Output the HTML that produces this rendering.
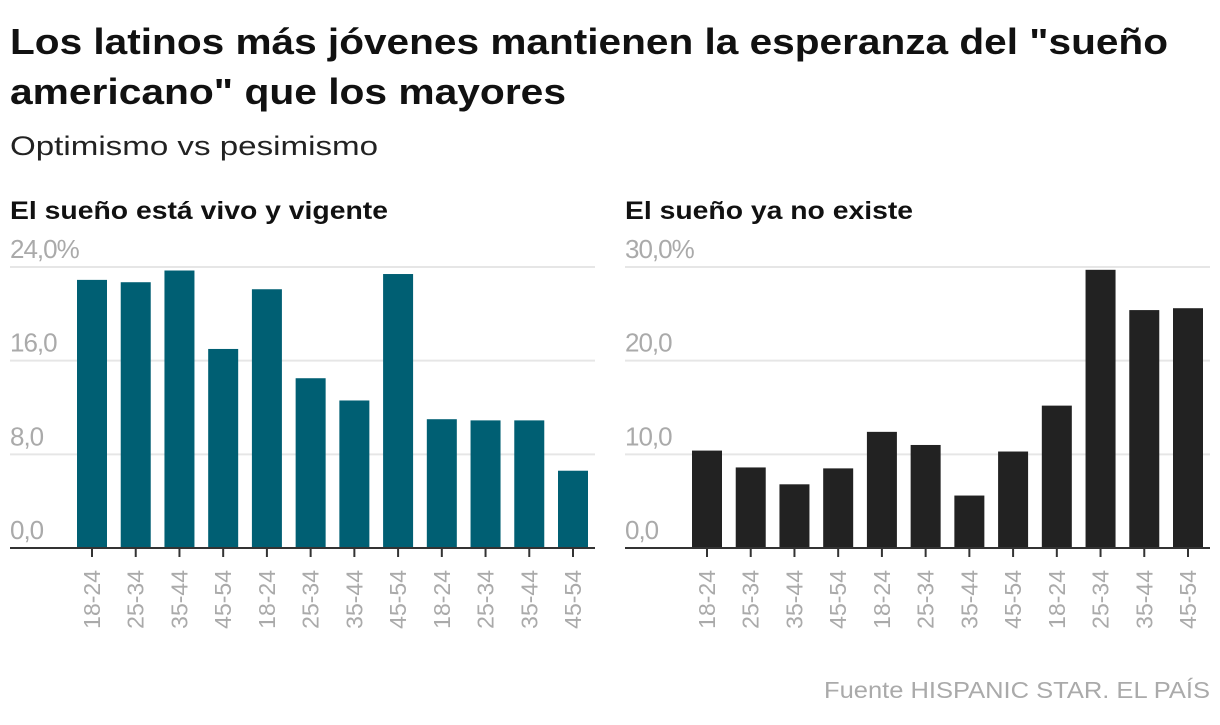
<!DOCTYPE html>
<html><head><meta charset="utf-8">
<style>
body{margin:0;background:#fff;width:1220px;height:720px;overflow:hidden;font-family:"Liberation Sans",sans-serif}
svg text{font-family:"Liberation Sans",sans-serif}
</style></head>
<body>
<svg id="chart" width="1220" height="720">
<text x="10" y="54" font-size="36" font-weight="bold" fill="#111" textLength="1158" lengthAdjust="spacingAndGlyphs">Los latinos más jóvenes mantienen la esperanza del "sueño</text>
<text x="10" y="104" font-size="36" font-weight="bold" fill="#111" textLength="556" lengthAdjust="spacingAndGlyphs">americano" que los mayores</text>
<text x="10" y="155" font-size="27" fill="#222" textLength="368" lengthAdjust="spacingAndGlyphs">Optimismo vs pesimismo</text>
<text x="10" y="219" font-size="25" font-weight="bold" fill="#111" textLength="378" lengthAdjust="spacingAndGlyphs">El sueño está vivo y vigente</text>
<text x="625" y="219" font-size="25" font-weight="bold" fill="#111" textLength="288" lengthAdjust="spacingAndGlyphs">El sueño ya no existe</text>
<text x="1210" y="698" font-size="23" fill="#aaa" text-anchor="end" textLength="386" lengthAdjust="spacingAndGlyphs">Fuente HISPANIC STAR. EL PAÍS</text>
<g id="left"></g><g id="right"></g>
</svg>
<script>
const categories = ["18-24","25-34","35-44","45-54","18-24","25-34","35-44","45-54","18-24","25-34","35-44","45-54"];
const aliveValues = [22.9,22.7,23.7,17.0,22.1,14.5,12.6,23.4,11.0,10.9,10.9,6.6];
const goneValues = [10.4,8.6,6.8,8.5,12.4,11.0,5.6,10.3,15.2,29.7,25.4,25.6];
const aliveTicks = [0,8,16,24];
const aliveTickLabels = ["0,0","8,0","16,0","24,0%"];
const goneTicks = [0,10,20,30];
const goneTickLabels = ["0,0","10,0","20,0","30,0%"];
const NS="http://www.w3.org/2000/svg";
function mk(tag,attrs,parent,txt){const e=document.createElementNS(NS,tag);for(const k in attrs)e.setAttribute(k,attrs[k]);if(txt!==undefined)e.textContent=txt;parent.appendChild(e);return e;}
function panel(g,x0,x1,vals,ticks,labels,max,color,prefix){
  const yb=548,yt=267;
  const y=v=>yb-(v/max)*(yb-yt);
  const firstC=x0+82,step=(x1-x0-82-22)/(vals.length-1);
  const x=i=>firstC+i*step;
  ticks.forEach((t,i)=>{
    if(t>0){const l=mk('line',{x1:x0,x2:x1,y1:y(t),y2:y(t),stroke:'#e6e6e6','stroke-width':2},g);
      
      }
    const tx=mk('text',{x:x0,y:y(t)-9,'font-size':26,fill:'#aaa','letter-spacing':'-1'},g,labels[i]);
    
    
  });
  vals.forEach((v,i)=>{
    const r=mk('rect',{x:x(i)-15,y:y(v),width:30,height:yb-y(v),fill:color},g);
    
    
    const tk=mk('line',{x1:x(i),x2:x(i),y1:yb,y2:yb+9,stroke:'#333','stroke-width':2},g);
    
    
    const lb=mk('text',{x:0,y:0,'font-size':23,fill:'#aaa','text-anchor':'end',transform:`translate(${x(i)+8},${yb+22}) rotate(-90)`},g,categories[i]);
    
    
  });
  const base=mk('line',{x1:x0,x2:x1,y1:yb,y2:yb,stroke:'#333','stroke-width':2},g);
  
  
}
panel(document.getElementById('left'),10,595,aliveValues,aliveTicks,aliveTickLabels,24,'#005f73','alive');
panel(document.getElementById('right'),625,1210,goneValues,goneTicks,goneTickLabels,30,'#222222','gone');
</script>
</body></html>
